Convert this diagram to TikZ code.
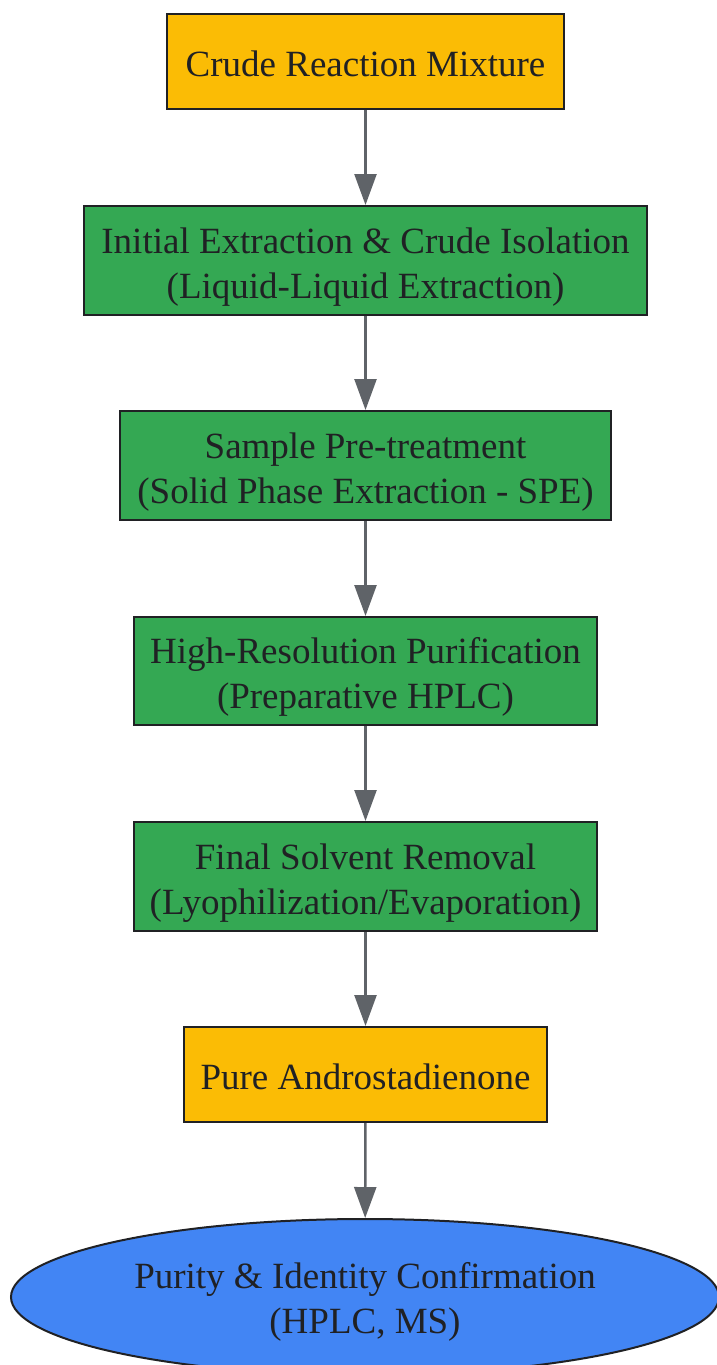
\documentclass[tikz,border=0pt]{standalone}
\usepackage{fontspec}
\setmainfont{Liberation Serif}
\usetikzlibrary{arrows.meta,shapes.geometric}
\definecolor{cyellow}{HTML}{FBBC05}
\definecolor{cgreen}{HTML}{34A853}
\definecolor{cblue}{HTML}{4285F4}
\definecolor{cgray}{HTML}{5F6368}
\definecolor{cdark}{HTML}{202124}
\newcommand\lowtext[2]{\raisebox{-#1}[\height][\depth]{\begin{tabular}{@{}c@{}}#2\end{tabular}}}
\tikzset{
  basebox/.style={draw=cdark, line width=2pt, inner sep=0pt, text=cdark,
    font=\fontsize{37}{45}\selectfont},
  termbox/.style={basebox, rectangle, fill=cyellow},
  procbox/.style={basebox, rectangle, fill=cgreen},
  endnode/.style={basebox, ellipse, fill=cblue},
  flow/.style={cgray, line width=2.5pt, -{Triangle[width=22pt,length=31pt]}}
}
\begin{document}
\begin{tikzpicture}[x=1pt,y=-1pt]
\useasboundingbox (0,0) rectangle (717,1365);
\clip (0,0) rectangle (717,1365);
\node[termbox, minimum width=397pt, minimum height=95pt] (crude) at (365.5,61.5) {\lowtext{6pt}{Crude Reaction Mixture}};
\node[procbox, minimum width=563pt, minimum height=109pt] (init) at (365.5,260.5) {\lowtext{6pt}{Initial Extraction \& Crude Isolation\\(Liquid-Liquid Extraction)}};
\node[procbox, minimum width=491pt, minimum height=109pt] (spe) at (365.5,465.5) {\lowtext{6pt}{Sample Pre-treatment\\(Solid Phase Extraction - SPE)}};
\node[procbox, minimum width=463pt, minimum height=108pt] (hplc) at (365.5,671) {\lowtext{6pt}{High-Resolution Purification\\(Preparative HPLC)}};
\node[procbox, minimum width=463pt, minimum height=109pt] (final) at (365.5,876.5) {\lowtext{6pt}{Final Solvent Removal\\(Lyophilization/Evaporation)}};
\node[termbox, minimum width=363pt, minimum height=95pt] (pure) at (365.5,1074.5) {\lowtext{6pt}{Pure Androstadienone}};
\node[endnode, minimum width=708pt, minimum height=156pt] (conf) at (365,1297) {\lowtext{5pt}{Purity \& Identity Confirmation\\(HPLC, MS)}};
\draw[flow] (crude) -- (init);
\draw[flow] (init) -- (spe);
\draw[flow] (spe) -- (hplc);
\draw[flow] (hplc) -- (final);
\draw[flow] (final) -- (pure);
\draw[flow] (pure) -- (conf);
\end{tikzpicture}
\end{document}
